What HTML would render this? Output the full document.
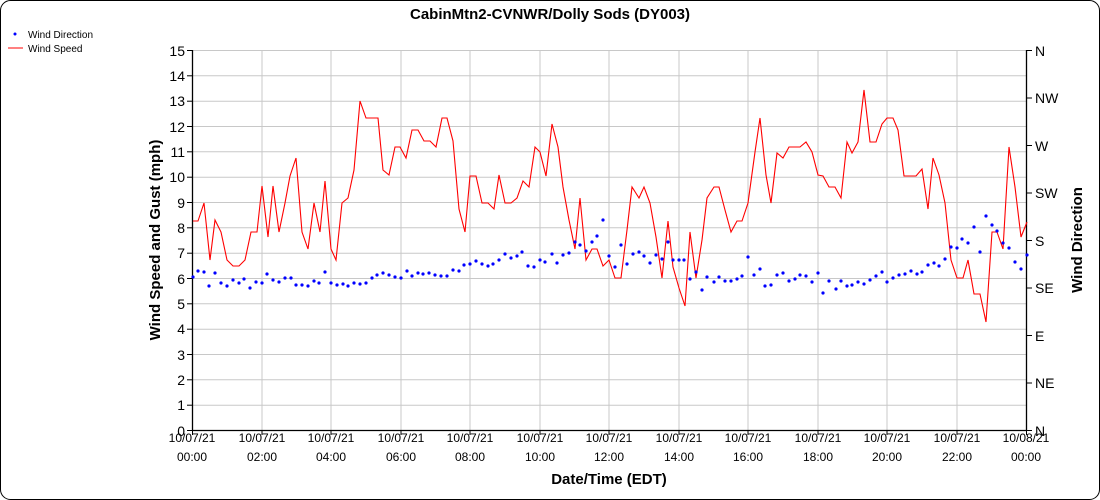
<!DOCTYPE html>
<html><head><meta charset="utf-8"><style>
body{margin:0;background:#fff}
svg{display:block;font-family:"Liberation Sans",Arial,sans-serif}
</style></head><body>
<svg width="1100" height="500" viewBox="0 0 1100 500" xmlns="http://www.w3.org/2000/svg">
<rect x="0.5" y="0.5" width="1099" height="499" rx="10" fill="#fff" stroke="#000"/>
<text x="550" y="19" font-size="15" font-weight="bold" text-anchor="middle">CabinMtn2-CVNWR/Dolly Sods (DY003)</text>
<circle cx="15" cy="34" r="1.5" fill="#00f"/>
<text x="28" y="38" font-size="10">Wind Direction</text>
<line x1="8" y1="48" x2="23" y2="48" stroke="#f00"/>
<text x="28" y="52" font-size="10">Wind Speed</text>
<g stroke="#c8c8c8" stroke-width="1">
<line x1="192" y1="50.5" x2="1026" y2="50.5"/><line x1="192" y1="75.8" x2="1026" y2="75.8"/><line x1="192" y1="101.2" x2="1026" y2="101.2"/><line x1="192" y1="126.5" x2="1026" y2="126.5"/><line x1="192" y1="151.8" x2="1026" y2="151.8"/><line x1="192" y1="177.2" x2="1026" y2="177.2"/><line x1="192" y1="202.5" x2="1026" y2="202.5"/><line x1="192" y1="227.8" x2="1026" y2="227.8"/><line x1="192" y1="253.2" x2="1026" y2="253.2"/><line x1="192" y1="278.5" x2="1026" y2="278.5"/><line x1="192" y1="303.8" x2="1026" y2="303.8"/><line x1="192" y1="329.2" x2="1026" y2="329.2"/><line x1="192" y1="354.5" x2="1026" y2="354.5"/><line x1="192" y1="379.8" x2="1026" y2="379.8"/><line x1="192" y1="405.2" x2="1026" y2="405.2"/>
<line x1="262" y1="50" x2="262" y2="430"/><line x1="331" y1="50" x2="331" y2="430"/><line x1="401" y1="50" x2="401" y2="430"/><line x1="470" y1="50" x2="470" y2="430"/><line x1="540" y1="50" x2="540" y2="430"/><line x1="609" y1="50" x2="609" y2="430"/><line x1="679" y1="50" x2="679" y2="430"/><line x1="748" y1="50" x2="748" y2="430"/><line x1="818" y1="50" x2="818" y2="430"/><line x1="887" y1="50" x2="887" y2="430"/><line x1="957" y1="50" x2="957" y2="430"/>
</g>
<g stroke="#000" stroke-width="1.3">
<line x1="192.5" y1="50" x2="192.5" y2="430"/><line x1="1026.5" y1="50" x2="1026.5" y2="430"/><line x1="192" y1="430.5" x2="1027" y2="430.5"/>
</g>
<g stroke="#000">
<line x1="187" y1="50.5" x2="192" y2="50.5"/><line x1="187" y1="75.8" x2="192" y2="75.8"/><line x1="187" y1="101.2" x2="192" y2="101.2"/><line x1="187" y1="126.5" x2="192" y2="126.5"/><line x1="187" y1="151.8" x2="192" y2="151.8"/><line x1="187" y1="177.2" x2="192" y2="177.2"/><line x1="187" y1="202.5" x2="192" y2="202.5"/><line x1="187" y1="227.8" x2="192" y2="227.8"/><line x1="187" y1="253.2" x2="192" y2="253.2"/><line x1="187" y1="278.5" x2="192" y2="278.5"/><line x1="187" y1="303.8" x2="192" y2="303.8"/><line x1="187" y1="329.2" x2="192" y2="329.2"/><line x1="187" y1="354.5" x2="192" y2="354.5"/><line x1="187" y1="379.8" x2="192" y2="379.8"/><line x1="187" y1="405.2" x2="192" y2="405.2"/><line x1="187" y1="430.5" x2="192" y2="430.5"/>
<line x1="1027" y1="50.5" x2="1032" y2="50.5"/><line x1="1027" y1="98" x2="1032" y2="98"/><line x1="1027" y1="145.5" x2="1032" y2="145.5"/><line x1="1027" y1="193" x2="1032" y2="193"/><line x1="1027" y1="240.5" x2="1032" y2="240.5"/><line x1="1027" y1="288" x2="1032" y2="288"/><line x1="1027" y1="335.5" x2="1032" y2="335.5"/><line x1="1027" y1="383" x2="1032" y2="383"/><line x1="1027" y1="430.5" x2="1032" y2="430.5"/>
<line x1="192.5" y1="430" x2="192.5" y2="435"/><line x1="262" y1="430" x2="262" y2="435"/><line x1="331" y1="430" x2="331" y2="435"/><line x1="401" y1="430" x2="401" y2="435"/><line x1="470" y1="430" x2="470" y2="435"/><line x1="540" y1="430" x2="540" y2="435"/><line x1="609" y1="430" x2="609" y2="435"/><line x1="679" y1="430" x2="679" y2="435"/><line x1="748" y1="430" x2="748" y2="435"/><line x1="818" y1="430" x2="818" y2="435"/><line x1="887" y1="430" x2="887" y2="435"/><line x1="957" y1="430" x2="957" y2="435"/><line x1="1026.5" y1="430" x2="1026.5" y2="435"/>
</g>
<g font-size="14" text-anchor="end">
<text x="185" y="56">15</text><text x="185" y="81">14</text><text x="185" y="106">13</text><text x="185" y="132">12</text><text x="185" y="157">11</text><text x="185" y="182">10</text><text x="185" y="208">9</text><text x="185" y="233">8</text><text x="185" y="258">7</text><text x="185" y="284">6</text><text x="185" y="309">5</text><text x="185" y="334">4</text><text x="185" y="360">3</text><text x="185" y="385">2</text><text x="185" y="410">1</text><text x="185" y="436">0</text>
</g>
<g font-size="14">
<text x="1035" y="56">N</text><text x="1035" y="103">NW</text><text x="1035" y="151">W</text><text x="1035" y="198">SW</text><text x="1035" y="246">S</text><text x="1035" y="293">SE</text><text x="1035" y="341">E</text><text x="1035" y="388">NE</text><text x="1035" y="436">N</text>
</g>
<g font-size="12" text-anchor="middle">
<text x="192" y="442">10/07/21</text><text x="192" y="461">00:00</text>
<text x="262" y="442">10/07/21</text><text x="262" y="461">02:00</text>
<text x="331" y="442">10/07/21</text><text x="331" y="461">04:00</text>
<text x="401" y="442">10/07/21</text><text x="401" y="461">06:00</text>
<text x="470" y="442">10/07/21</text><text x="470" y="461">08:00</text>
<text x="540" y="442">10/07/21</text><text x="540" y="461">10:00</text>
<text x="609" y="442">10/07/21</text><text x="609" y="461">12:00</text>
<text x="679" y="442">10/07/21</text><text x="679" y="461">14:00</text>
<text x="748" y="442">10/07/21</text><text x="748" y="461">16:00</text>
<text x="818" y="442">10/07/21</text><text x="818" y="461">18:00</text>
<text x="887" y="442">10/07/21</text><text x="887" y="461">20:00</text>
<text x="957" y="442">10/07/21</text><text x="957" y="461">22:00</text>
<text x="1026" y="442">10/08/21</text><text x="1026" y="461">00:00</text>
</g>
<text x="609" y="484" font-size="15" font-weight="bold" text-anchor="middle">Date/Time (EDT)</text>
<text transform="translate(160,240) rotate(-90)" font-size="15" font-weight="bold" text-anchor="middle">Wind Speed and Gust (mph)</text>
<text transform="translate(1082,240) rotate(-90)" font-size="15" font-weight="bold" text-anchor="middle">Wind Direction</text>
<polyline fill="none" stroke="#f00" stroke-width="1.1" points="193,221 198,221 204,203 210,260 215,220 221,232 227,260 233,266 239,266 245,260 251,232 257,232 262,186 268,237 273,186 279,232 285,203 290,176 296,158 302,232 308,249 314,203 320,232 325,181 331,249 336,260 342,203 348,198 354,170 360,101 366,118 372,118 378,118 383,170 389,175 395,147 400,147 406,158 412,130 418,130 424,141 430,141 436,147 442,118 447,118 453,141 459,209 465,232 470,176 476,176 482,203 488,203 494,209 499,175 505,203 511,203 517,198 523,181 529,187 535,147 540,152 546,176 552,124 558,147 563,187 569,220 575,249 580,198 586,260 592,249 597,249 603,266 609,260 615,278 621,278 627,230 632,187 639,198 644,187 650,203 656,237 662,278 668,221 673,267 679,288 685,306 690,232 696,278 702,240 707,198 714,187 719,187 725,210 731,232 737,221 742,221 748,203 755,152 760,118 766,175 771,203 777,153 783,158 789,147 800,147 806,142 812,152 818,175 823,176 829,187 835,187 841,198 847,142 852,153 858,142 864,90 870,142 876,142 882,124 887,118 893,118 898,130 904,176 910,176 916,176 922,169 928,209 933,158 939,175 945,203 951,260 957,278 963,278 968,260 974,294 980,294 986,322 992,232 997,232 1003,249 1009,147 1015,187 1021,237 1027,222"/>
<g fill="#00f">
<circle cx="193" cy="277" r="1.6"/><circle cx="198" cy="271" r="1.6"/><circle cx="204" cy="272" r="1.6"/><circle cx="209" cy="286" r="1.6"/><circle cx="215" cy="273" r="1.6"/><circle cx="221" cy="283" r="1.6"/><circle cx="227" cy="286" r="1.6"/><circle cx="233" cy="280" r="1.6"/><circle cx="239" cy="283" r="1.6"/><circle cx="244" cy="279" r="1.6"/><circle cx="250" cy="288" r="1.6"/><circle cx="256" cy="282" r="1.6"/><circle cx="262" cy="283" r="1.6"/><circle cx="267" cy="274" r="1.6"/><circle cx="273" cy="280" r="1.6"/><circle cx="279" cy="282" r="1.6"/><circle cx="285" cy="278" r="1.6"/><circle cx="291" cy="278" r="1.6"/><circle cx="296" cy="285" r="1.6"/><circle cx="302" cy="285" r="1.6"/><circle cx="308" cy="286" r="1.6"/><circle cx="314" cy="281" r="1.6"/><circle cx="319" cy="283" r="1.6"/><circle cx="325" cy="272" r="1.6"/><circle cx="331" cy="283" r="1.6"/><circle cx="337" cy="285" r="1.6"/><circle cx="343" cy="284" r="1.6"/><circle cx="348" cy="286" r="1.6"/><circle cx="354" cy="283" r="1.6"/><circle cx="360" cy="284" r="1.6"/><circle cx="366" cy="283" r="1.6"/><circle cx="372" cy="278" r="1.6"/><circle cx="377" cy="275" r="1.6"/><circle cx="383" cy="273" r="1.6"/><circle cx="389" cy="275" r="1.6"/><circle cx="395" cy="277" r="1.6"/><circle cx="401" cy="278" r="1.6"/><circle cx="407" cy="271" r="1.6"/><circle cx="412" cy="276" r="1.6"/><circle cx="418" cy="273" r="1.6"/><circle cx="423" cy="274" r="1.6"/><circle cx="429" cy="273" r="1.6"/><circle cx="435" cy="275" r="1.6"/><circle cx="441" cy="276" r="1.6"/><circle cx="447" cy="276" r="1.6"/><circle cx="453" cy="270" r="1.6"/><circle cx="459" cy="271" r="1.6"/><circle cx="464" cy="265" r="1.6"/><circle cx="470" cy="264" r="1.6"/><circle cx="476" cy="261" r="1.6"/><circle cx="482" cy="264" r="1.6"/><circle cx="488" cy="266" r="1.6"/><circle cx="493" cy="264" r="1.6"/><circle cx="499" cy="260" r="1.6"/><circle cx="505" cy="254" r="1.6"/><circle cx="511" cy="258" r="1.6"/><circle cx="517" cy="256" r="1.6"/><circle cx="522" cy="252" r="1.6"/><circle cx="528" cy="266" r="1.6"/><circle cx="534" cy="267" r="1.6"/><circle cx="540" cy="260" r="1.6"/><circle cx="545" cy="262" r="1.6"/><circle cx="552" cy="254" r="1.6"/><circle cx="557" cy="263" r="1.6"/><circle cx="563" cy="255" r="1.6"/><circle cx="569" cy="253" r="1.6"/><circle cx="575" cy="242" r="1.6"/><circle cx="580" cy="245" r="1.6"/><circle cx="586" cy="251" r="1.6"/><circle cx="592" cy="242" r="1.6"/><circle cx="597" cy="236" r="1.6"/><circle cx="603" cy="220" r="1.6"/><circle cx="609" cy="256" r="1.6"/><circle cx="615" cy="267" r="1.6"/><circle cx="621" cy="245" r="1.6"/><circle cx="627" cy="264" r="1.6"/><circle cx="633" cy="254" r="1.6"/><circle cx="639" cy="252" r="1.6"/><circle cx="644" cy="256" r="1.6"/><circle cx="650" cy="263" r="1.6"/><circle cx="656" cy="255" r="1.6"/><circle cx="662" cy="259" r="1.6"/><circle cx="668" cy="242" r="1.6"/><circle cx="673" cy="260" r="1.6"/><circle cx="679" cy="260" r="1.6"/><circle cx="684" cy="260" r="1.6"/><circle cx="690" cy="279" r="1.6"/><circle cx="696" cy="272" r="1.6"/><circle cx="702" cy="290" r="1.6"/><circle cx="707" cy="277" r="1.6"/><circle cx="714" cy="282" r="1.6"/><circle cx="719" cy="277" r="1.6"/><circle cx="725" cy="281" r="1.6"/><circle cx="731" cy="281" r="1.6"/><circle cx="737" cy="279" r="1.6"/><circle cx="742" cy="276" r="1.6"/><circle cx="748" cy="257" r="1.6"/><circle cx="754" cy="275" r="1.6"/><circle cx="760" cy="269" r="1.6"/><circle cx="765" cy="286" r="1.6"/><circle cx="771" cy="285" r="1.6"/><circle cx="777" cy="275" r="1.6"/><circle cx="783" cy="273" r="1.6"/><circle cx="789" cy="281" r="1.6"/><circle cx="795" cy="279" r="1.6"/><circle cx="800" cy="275" r="1.6"/><circle cx="806" cy="276" r="1.6"/><circle cx="812" cy="282" r="1.6"/><circle cx="818" cy="273" r="1.6"/><circle cx="823" cy="293" r="1.6"/><circle cx="829" cy="281" r="1.6"/><circle cx="836" cy="289" r="1.6"/><circle cx="841" cy="281" r="1.6"/><circle cx="847" cy="286" r="1.6"/><circle cx="852" cy="285" r="1.6"/><circle cx="858" cy="282" r="1.6"/><circle cx="864" cy="284" r="1.6"/><circle cx="870" cy="280" r="1.6"/><circle cx="876" cy="276" r="1.6"/><circle cx="882" cy="272" r="1.6"/><circle cx="887" cy="282" r="1.6"/><circle cx="893" cy="278" r="1.6"/><circle cx="899" cy="275" r="1.6"/><circle cx="905" cy="274" r="1.6"/><circle cx="911" cy="271" r="1.6"/><circle cx="917" cy="274" r="1.6"/><circle cx="922" cy="272" r="1.6"/><circle cx="928" cy="265" r="1.6"/><circle cx="934" cy="263" r="1.6"/><circle cx="939" cy="266" r="1.6"/><circle cx="945" cy="259" r="1.6"/><circle cx="951" cy="247" r="1.6"/><circle cx="957" cy="248" r="1.6"/><circle cx="962" cy="239" r="1.6"/><circle cx="968" cy="243" r="1.6"/><circle cx="974" cy="227" r="1.6"/><circle cx="980" cy="252" r="1.6"/><circle cx="986" cy="216" r="1.6"/><circle cx="992" cy="225" r="1.6"/><circle cx="997" cy="231" r="1.6"/><circle cx="1003" cy="243" r="1.6"/><circle cx="1009" cy="248" r="1.6"/><circle cx="1015" cy="262" r="1.6"/><circle cx="1021" cy="269" r="1.6"/><circle cx="1027" cy="255" r="1.6"/>
</g>
</svg>
</body></html>
